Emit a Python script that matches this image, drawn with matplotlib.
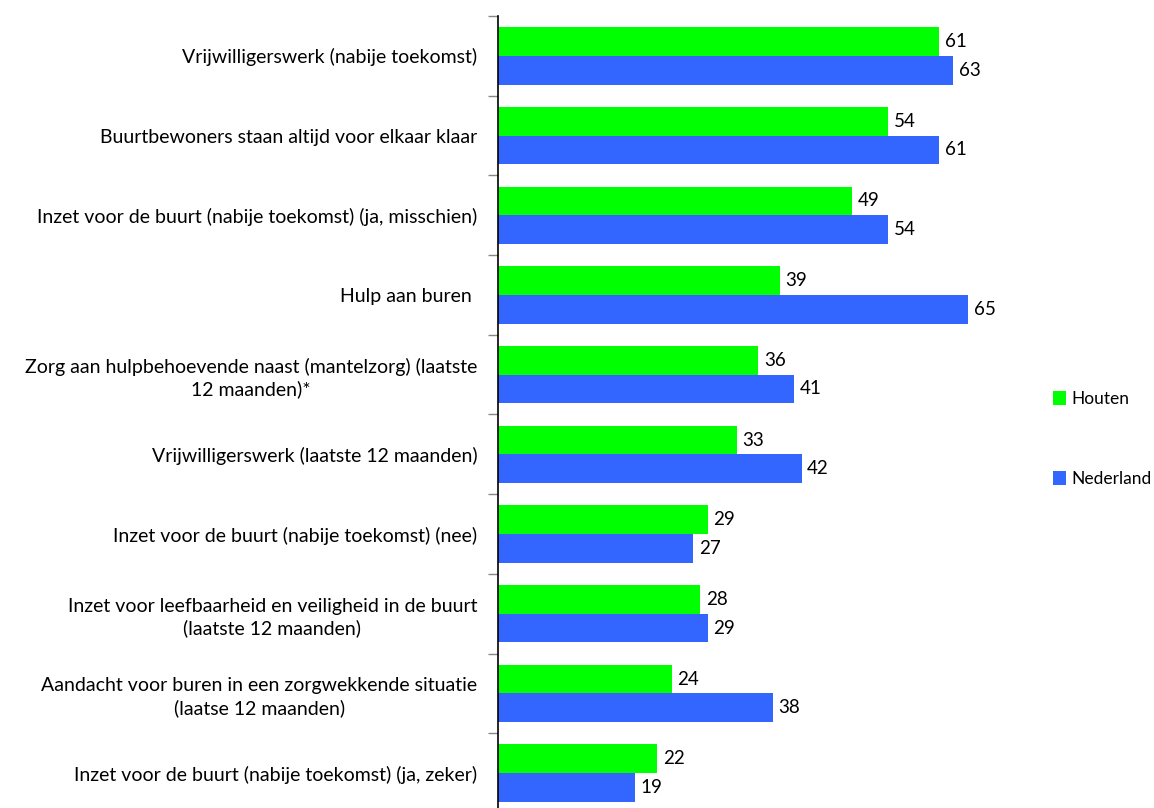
import matplotlib
matplotlib.use("Agg")
import matplotlib.pyplot as plt
import numpy as np

categories = [
    "Vrijwilligerswerk (nabije toekomst)",
    "Buurtbewoners staan altijd voor elkaar klaar",
    "Inzet voor de buurt (nabije toekomst) (ja, misschien)",
    "Hulp aan buren ",
    "Zorg aan hulpbehoevende naast (mantelzorg) (laatste\n12 maanden)*",
    "Vrijwilligerswerk (laatste 12 maanden)",
    "Inzet voor de buurt (nabije toekomst) (nee)",
    "Inzet voor leefbaarheid en veiligheid in de buurt\n(laatste 12 maanden)",
    "Aandacht voor buren in een zorgwekkende situatie\n(laatse 12 maanden)",
    "Inzet voor de buurt (nabije toekomst) (ja, zeker)",
]
houten = [61, 54, 49, 39, 36, 33, 29, 28, 24, 22]
nederland = [63, 61, 54, 65, 41, 42, 27, 29, 38, 19]
series_names = ["Houten", "Nederland"]

plt.rcParams['font.family'] = ['Lato', 'DejaVu Sans']
FS = 14

W, H = 1154, 808
fig = plt.figure(figsize=(W / 100, H / 100), dpi=100)
x0, x1 = 498, 1010
ytop, ybot = 16, 16 + 10 * 79.7
ax = fig.add_axes([x0 / W, 1 - ybot / H, (x1 - x0) / W, (ybot - ytop) / H])

n = len(categories)
pos = np.arange(n)
bh = 0.36
green = "#00FF00"
blue = "#3366FF"
b1 = ax.barh(pos - bh / 2, houten, height=bh, color=green, label=series_names[0])
b2 = ax.barh(pos + bh / 2, nederland, height=bh, color=blue, label=series_names[1])

ax.set_ylim(n - 0.5, -0.5)
ax.set_xlim(0, (x1 - x0) / 7.23)

for bars, vals in ((b1, houten), (b2, nederland)):
    for rect, v in zip(bars, vals):
        ax.annotate(str(v), (rect.get_width(), rect.get_y() + rect.get_height() / 2),
                    xytext=(4, 0), textcoords="offset points", va="center", ha="left",
                    fontsize=13.5, color="black")

ax.set_yticks(pos)
ax.set_yticklabels(categories, fontsize=FS, multialignment="center", linespacing=1.3)
ax.tick_params(axis="y", which="major", length=0, pad=15)
ax.set_yticks(np.arange(-0.5, n, 1.0), minor=True)
ax.tick_params(axis="y", which="minor", length=7, color="#888888", width=1)
ax.set_xticks([])
for s in ("top", "right", "bottom"):
    ax.spines[s].set_visible(False)
ax.spines["left"].set_color("black")
ax.spines["left"].set_linewidth(1.2)

fig.legend(handles=[b1, b2], labels=series_names, loc="center left",
           bbox_to_anchor=(1053 / W, 1 - 439 / H), frameon=False,
           fontsize=12.5, handlelength=0.75, handleheight=0.85,
           handletextpad=0.3, labelspacing=3.7, borderpad=0, borderaxespad=0)

fig.savefig("out.png", dpi=100)
